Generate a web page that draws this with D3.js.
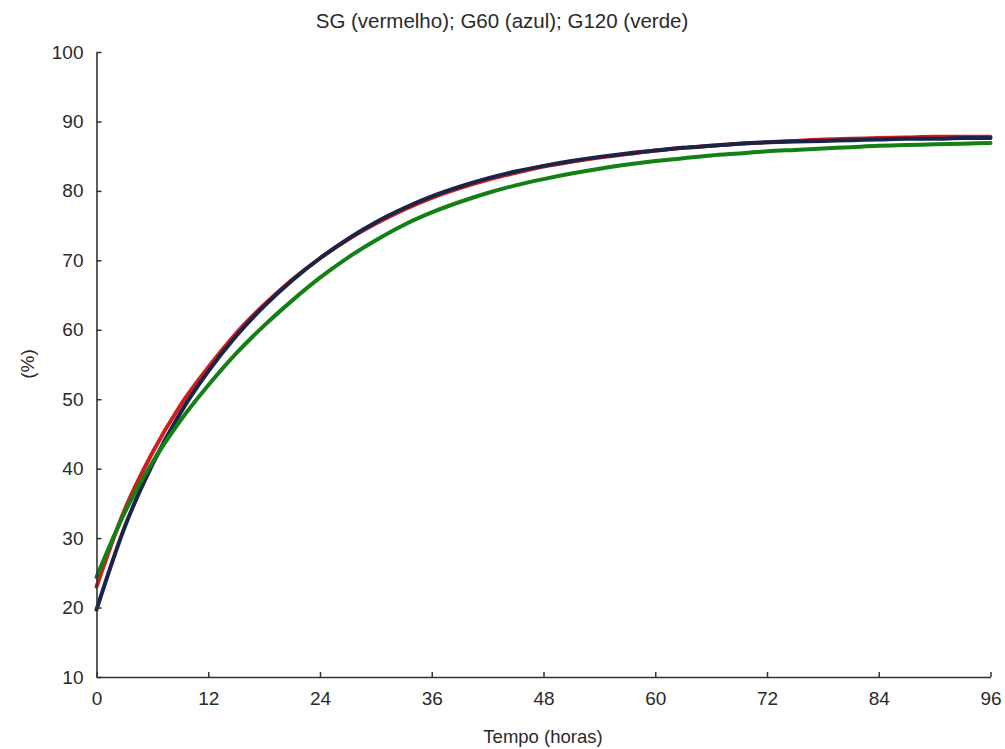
<!DOCTYPE html>
<html><head><meta charset="utf-8">
<script src="https://cdn.jsdelivr.net/npm/d3@7"></script>
<style>
html,body{margin:0;padding:0;background:#fff;}
svg{display:block;font-family:"Liberation Sans",Arial,sans-serif;}
</style></head>
<body>
<svg id="chart" width="1005" height="749"></svg>
<script>
const title = "SG (vermelho); G60 (azul); G120 (verde)";
const xLabel = "Tempo (horas)";
const yLabel = "(%)";
const xTicks = [0, 12, 24, 36, 48, 60, 72, 84, 96];
const yTicks = [10, 20, 30, 40, 50, 60, 70, 80, 90, 100];
const hours = [0,3,6,9,12,15,18,21,24,27,30,33,36,39,42,45,48,51,54,57,60,63,66,69,72,75,78,81,84,87,90,93,96];
const sg   = [23.0,34.0,42.3,49.1,54.6,59.5,63.6,67.2,70.3,73.0,75.3,77.3,79.0,80.4,81.6,82.6,83.5,84.2,84.8,85.3,85.8,86.2,86.5,86.8,87.0,87.2,87.4,87.5,87.6,87.7,87.8,87.8,87.8];
const g60  = [19.7,31.5,40.6,48.0,54.0,59.1,63.4,67.1,70.3,73.1,75.5,77.5,79.2,80.6,81.8,82.8,83.6,84.3,84.9,85.4,85.8,86.2,86.5,86.8,87.0,87.1,87.2,87.3,87.4,87.5,87.5,87.6,87.6];
const g120 = [24.4,33.6,40.9,46.9,52.0,56.6,60.6,64.2,67.5,70.4,72.9,75.1,76.9,78.4,79.7,80.8,81.7,82.5,83.2,83.8,84.3,84.7,85.1,85.4,85.7,85.9,86.1,86.3,86.5,86.6,86.7,86.8,86.9];
const seriesNames = ["SG", "G60", "G120"];
const seriesColors = ["#d01c1c", "#1b2448", "#128015"];

const svg = d3.select("#chart");
const x = d3.scaleLinear().domain([0, 96]).range([96.5, 990.5]);
const y = d3.scaleLinear().domain([10, 100]).range([677, 52]);
const axisColor = "#333";
const textColor = "#2a2a2a";

// series (red, blue, green draw order)
const data = [sg, g60, g120];
const line = d3.line().x((d, i) => x(hours[i])).y(d => y(d)).curve(d3.curveMonotoneX);
svg.append("g").selectAll("path").data(data).join("path")
  .attr("d", d => line(d))
  .attr("fill", "none")
  .attr("stroke", (d, i) => seriesColors[i])
  .attr("stroke-width", 4)
  .attr("stroke-linejoin", "round")
  .attr("stroke-linecap", "round");

// axes
const yAxis = d3.axisLeft(y).tickValues(yTicks).tickSizeInner(-5).tickSizeOuter(0).tickPadding(13);
const xAxis = d3.axisBottom(x).tickValues(xTicks).tickSizeInner(-5).tickSizeOuter(0).tickPadding(15);
const gy = svg.append("g").attr("transform", `translate(${x(0)},0)`).call(yAxis);
const gx = svg.append("g").attr("transform", `translate(0,${y(10)})`).call(xAxis);
[gx, gy].forEach(g => {
  g.select(".domain").attr("stroke", axisColor).attr("stroke-width", 1.6);
  g.selectAll(".tick line").attr("stroke", axisColor).attr("stroke-width", 1.5);
  g.selectAll(".tick text").attr("fill", textColor).style("font-size", "19px")
    .style("font-family", '"Liberation Sans", Arial, sans-serif');
});

svg.append("text").attr("x", 502).attr("y", 28).attr("text-anchor", "middle")
  .attr("fill", textColor).style("font-size", "20.5px").text(title);
svg.append("text").attr("x", 543).attr("y", 743).attr("text-anchor", "middle")
  .attr("fill", textColor).style("font-size", "18.5px").text(xLabel);
svg.append("text").attr("transform", "translate(34,364) rotate(-90)").attr("text-anchor", "middle")
  .attr("fill", textColor).style("font-size", "19px").text(yLabel);
</script>
</body></html>
